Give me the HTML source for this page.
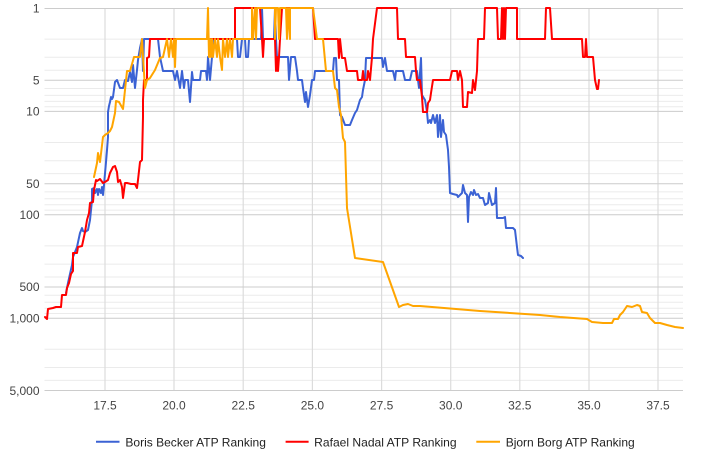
<!DOCTYPE html>
<html><head><meta charset="utf-8"><style>
html,body{margin:0;padding:0;background:#fff;}
svg{display:block;font-family:"Liberation Sans",Arial,sans-serif;}
</style></head><body>
<svg width="713" height="471" viewBox="0 0 713 471" xmlns="http://www.w3.org/2000/svg">
<rect width="713" height="471" fill="#fff"/>
<g stroke="#ebebeb" stroke-width="1">
<line x1="44.5" x2="683" y1="39.1" y2="39.1"/><line x1="44.5" x2="683" y1="57.3" y2="57.3"/><line x1="44.5" x2="683" y1="70.2" y2="70.2"/>
<line x1="44.5" x2="683" y1="88.5" y2="88.5"/><line x1="44.5" x2="683" y1="95.4" y2="95.4"/><line x1="44.5" x2="683" y1="101.4" y2="101.4"/><line x1="44.5" x2="683" y1="106.7" y2="106.7"/>
<line x1="44.5" x2="683" y1="142.5" y2="142.5"/><line x1="44.5" x2="683" y1="160.7" y2="160.7"/><line x1="44.5" x2="683" y1="173.6" y2="173.6"/>
<line x1="44.5" x2="683" y1="191.9" y2="191.9"/><line x1="44.5" x2="683" y1="198.8" y2="198.8"/><line x1="44.5" x2="683" y1="204.8" y2="204.8"/><line x1="44.5" x2="683" y1="210.1" y2="210.1"/>
<line x1="44.5" x2="683" y1="245.9" y2="245.9"/><line x1="44.5" x2="683" y1="264.1" y2="264.1"/><line x1="44.5" x2="683" y1="277" y2="277"/>
<line x1="44.5" x2="683" y1="295.3" y2="295.3"/><line x1="44.5" x2="683" y1="302.2" y2="302.2"/><line x1="44.5" x2="683" y1="308.2" y2="308.2"/><line x1="44.5" x2="683" y1="313.5" y2="313.5"/>
<line x1="44.5" x2="683" y1="349.3" y2="349.3"/><line x1="44.5" x2="683" y1="367.5" y2="367.5"/><line x1="44.5" x2="683" y1="380.4" y2="380.4"/>
</g>
<g stroke="#dcdcdc" stroke-width="1.2">
<line x1="105" x2="105" y1="8" y2="391"/><line x1="174" x2="174" y1="8" y2="391"/><line x1="243.2" x2="243.2" y1="8" y2="391"/>
<line x1="312.4" x2="312.4" y1="8" y2="391"/><line x1="381.6" x2="381.6" y1="8" y2="391"/><line x1="450.7" x2="450.7" y1="8" y2="391"/>
<line x1="519.8" x2="519.8" y1="8" y2="391"/><line x1="589" x2="589" y1="8" y2="391"/><line x1="658" x2="658" y1="8" y2="391"/>
</g>
<g stroke="#cccccc" stroke-width="1">
<line x1="44.5" x2="683" y1="8.5" y2="8.5"/><line x1="44.5" x2="683" y1="80.3" y2="80.3"/><line x1="44.5" x2="683" y1="111.4" y2="111.4"/>
<line x1="44.5" x2="683" y1="183.7" y2="183.7"/><line x1="44.5" x2="683" y1="214.8" y2="214.8"/><line x1="44.5" x2="683" y1="287" y2="287"/>
<line x1="44.5" x2="683" y1="318.2" y2="318.2"/><line x1="44.5" x2="683" y1="390.5" y2="390.5"/>
</g>
<g font-size="12" fill="#444" text-anchor="end">
<text x="39.5" y="12.5">1</text><text x="39.5" y="84.5">5</text><text x="39.5" y="115.5">10</text>
<text x="39.5" y="188">50</text><text x="39.5" y="219">100</text><text x="39.5" y="291">500</text>
<text x="39.5" y="322.5">1,000</text><text x="39.5" y="395">5,000</text>
</g>
<g font-size="12" fill="#444" text-anchor="middle">
<text x="105" y="409.3">17.5</text><text x="174" y="409.3">20.0</text><text x="243.2" y="409.3">22.5</text>
<text x="312.4" y="409.3">25.0</text><text x="381.6" y="409.3">27.5</text><text x="450.7" y="409.3">30.0</text>
<text x="519.8" y="409.3">32.5</text><text x="589" y="409.3">35.0</text><text x="658" y="409.3">37.5</text>
</g>
<g fill="none" stroke-width="2" stroke-linejoin="round" stroke-linecap="round">
<polyline stroke="#3b62d4" points="66,293 68,283 72,265 73,257 77,247 80,233 82,228 83,231 85,232 88,230 90,220 92,200 92,189 94,188 95,193 97,189 98,195 99,189 101,193 102,187 103,195 104,185 106,162 107,150 108,137 108,112 109,106 110,102 111,97 112,99 113,97 115,82 117,80 120,88 123,88 125,80 128,81 130,72 132,82 133,65 135,88 137,70 138,60 140,48 142,39 143,71 144,39 158,39 160,57 163,71 173,71 175,80 177,71 180,88 182,71 184,88 185,80 188,80 190,102 192,72 193,80 200,80 201,71 206,71 207,80 208,57 210,80 212,57 213,39 237,39 238,57 240,57 242,39 245,39 246,57 248,57 249,39 261,39 262,8 263,39 274,39 275,8 276,39 277,57 288,57 289,80 291,57 295,57 297,71 298,80 302,80 303,88 305,102 306,92 308,107 310,95 312,80 314,80 315,71 333,71 334,58 336,58 337,80 339,80 340,115 342,117 345,125 350,125 352,120 355,113 357,110 360,100 362,97 363,90 365,80 366,58 382,58 383,67 385,58 387,71 393,71 395,80 396,71 403,71 405,80 410,80 412,71 417,71 418,80 419,88 421,58 422,95 425,100 427,112 428,123 430,120 431,123 433,115 435,123 437,115 438,137 440,115 441,137 443,120 444,132 446,135 448,150 449,167 450,193 453,194 457,195 458,197 462,193 463,185 465,193 467,195 468,222 469,197 471,192 473,195 474,190 476,195 478,194 480,198 483,198 485,205 488,203 489,193 492,205 495,203 496,188 497,218 503,218 505,217 506,228 513,228 515,230 517,247 518,255 521,256 523,258"/>
<polyline stroke="#ff0000" points="45,317 47,319 48,309 53,308 56,307 61,307 62,295 66,295 67,288 69,283 71,274 73,271 73,253 77,253 78,247 82,246 85,232 87,220 89,213 90,203 93,202 94,190 96,180 97,181 100,179 103,183 105,182 108,180 110,173 113,167 115,166 117,172 118,182 120,180 122,187 123,198 125,183 127,183 131,184 135,184 137,188 138,180 140,162 142,160 143,117 143,100 144,80 147,80 147,58 149,57 150,39 235,39 235,8 260,8 262,39 263,57 264,39 275,39 276,71 277,57 278,71 279,57 280,39 282,8 313,8 315,39 338,39 339,58 340,39 342,58 345,58 347,71 357,71 358,80 362,80 363,71 364,80 367,80 368,71 370,80 372,57 373,39 377,8 397,8 398,39 405,39 406,57 415,57 416,71 417,80 420,80 422,97 423,112 427,112 428,103 430,100 431,93 433,80 450,80 452,71 457,71 458,80 460,71 462,80 463,107 467,107 468,92 472,93 473,80 475,90 477,71 478,39 484,39 485,8 497,8 498,39 501,39 502,8 503,39 504,8 505,39 506,8 517,8 517,39 545,39 546,8 550,8 552,39 582,39 583,57 585,57 586,39 587,57 593,57 595,80 597,89 598,89 599,80"/>
<polyline stroke="#ffa500" points="94,177 97,163 98,153 100,162 103,137 105,135 108,133 110,131 112,127 115,113 116,101 119,102 123,109 127,71 130,71 134,57 140,57 142,39 143,57 145,88 147,80 150,78 155,70 160,58 163,57 167,39 169,57 171,39 173,57 174,39 175,67 176,39 207,39 208,8 209,57 210,39 211,57 212,39 213,57 215,39 217,57 218,39 220,57 222,70 223,39 225,57 227,39 228,57 230,39 232,57 233,39 252,39 252,8 253,39 255,8 256,39 257,8 275,8 275,39 276,8 278,8 279,39 280,8 286,8 287,39 288,8 290,39 290,8 313,8 317,39 323,39 326,71 333,71 335,88 337,90 339,107 341,115 342,127 343,138 345,142 347,208 355,258 383,262 399,307 403,305 408,304 413,306 420,306 480,311 540,315 560,317 587,319 592,322 603,323 612,323 614,319 618,319 620,315 623,312 627,306 632,307 637,305 640,306 642,312 647,313 650,318 655,323 660,323 667,325 675,327 683,328"/>
</g>
<g stroke-width="2">
<line x1="96" x2="119.5" y1="441.8" y2="441.8" stroke="#3b62d4"/>
<line x1="285.6" x2="308.6" y1="441.8" y2="441.8" stroke="#ff0000"/>
<line x1="476.3" x2="500" y1="441.8" y2="441.8" stroke="#ffa500"/>
</g>
<g font-size="12" fill="#222">
<text x="125.4" y="446.5" textLength="140.5" lengthAdjust="spacingAndGlyphs">Boris Becker ATP Ranking</text>
<text x="314.2" y="446.5" textLength="142.4" lengthAdjust="spacingAndGlyphs">Rafael Nadal ATP Ranking</text>
<text x="505.7" y="446.5" textLength="129" lengthAdjust="spacingAndGlyphs">Bjorn Borg ATP Ranking</text>
</g>
</svg>
</body></html>
